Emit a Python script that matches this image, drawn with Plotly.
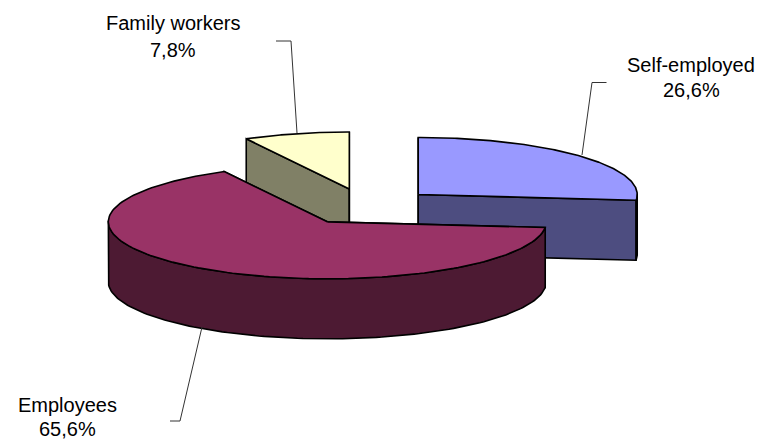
import numpy as np
import plotly.graph_objects as go

# Data
categories = ["Self-employed", "Employees", "Family workers"]
shares = [26.6, 65.6, 7.8]

# Styles
top_colors = ["#9999FF", "#993366", "#FFFFCC"]
side_colors = ["#4D4D80", "#4D1A33", "#808066"]

# Projection (pixel space of the 770x441 page)
CX, CY = 366.3, 206.7
RX, RY = 219.0, 57.0
DEPTH = 60.0
EXPLODE = 70.0
TILT = RY / RX

# Label layout: (text centre x, name y, value y, leader polyline)
label_x = [691, 67, 173]
name_y = [65, 405, 22.5]
value_y = [89.5, 428.5, 49.5]
leader_x = [[582, 592, 606.5], [202, 180, 170], [297, 291, 276]]
leader_y = [[155, 82.5, 82.5], [327, 421, 421], [133, 41, 41]]

fig = go.Figure()


def polygon(xs, ys, fill):
    fig.add_trace(go.Scatter(
        x=xs, y=ys, mode="lines", fill="toself", fillcolor=fill,
        line=dict(color="#000000", width=1.6), hoverinfo="skip", showlegend=False,
    ))


# Slice angles, clockwise from 12 o'clock
bounds = np.cumsum([0.0] + shares) / sum(shares) * 2 * np.pi
slices = []
for i in range(len(shares)):
    a0, a1 = bounds[i], bounds[i + 1]
    mid = (a0 + a1) / 2
    cx = CX + EXPLODE * np.sin(mid)
    cy = CY - EXPLODE * TILT * np.cos(mid)
    t = np.linspace(a0, a1, 160)
    slices.append(dict(cx=cx, cy=cy, t=t,
                       ax=cx + RX * np.sin(t), ay=cy - RY * np.cos(t)))

# Paint order: back slices first
for i in [2, 0, 1]:
    s = slices[i]
    cx, cy, t, ax, ay = s["cx"], s["cy"], s["t"], s["ax"], s["ay"]
    # cut faces
    for end in (0, -1):
        polygon([cx, ax[end], ax[end], cx, cx],
                [cy, ay[end], ay[end] + DEPTH, cy + DEPTH, cy], side_colors[i])
    # outer rim (front half only)
    front = (np.cos(t) <= 0.02)
    if front.any():
        rx, ry = ax[front], ay[front]
        polygon(np.r_[rx, rx[::-1], rx[0]],
                np.r_[ry, ry[::-1] + DEPTH, ry[0]], side_colors[i])
    # top
    polygon(np.r_[cx, ax, cx], np.r_[cy, ay, cy], top_colors[i])

# Leader lines
for lx, ly in zip(leader_x, leader_y):
    fig.add_trace(go.Scatter(x=lx, y=ly, mode="lines",
                             line=dict(color="#333333", width=1),
                             hoverinfo="skip", showlegend=False))

# Labels
font = dict(family="Liberation Sans, Arial, sans-serif", size=20, color="#000000")
for i, name in enumerate(categories):
    value = f"{shares[i]:.1f}%".replace(".", ",")
    for text, y in ((name, name_y[i]), (value, value_y[i])):
        fig.add_annotation(x=label_x[i], y=y, text=text, showarrow=False,
                           xanchor="center", yanchor="middle", font=font)

# The page body has an 8 px margin, so the plot area starts at (8, 8)
fig.update_layout(
    width=762, height=433, autosize=False,
    margin=dict(l=0, r=0, t=0, b=0),
    paper_bgcolor="#FFFFFF", plot_bgcolor="#FFFFFF",
    xaxis=dict(range=[8, 770], visible=False, fixedrange=True),
    yaxis=dict(range=[441, 8], visible=False, fixedrange=True),
)
fig.write_html("out.html", config=dict(displayModeBar=False))
